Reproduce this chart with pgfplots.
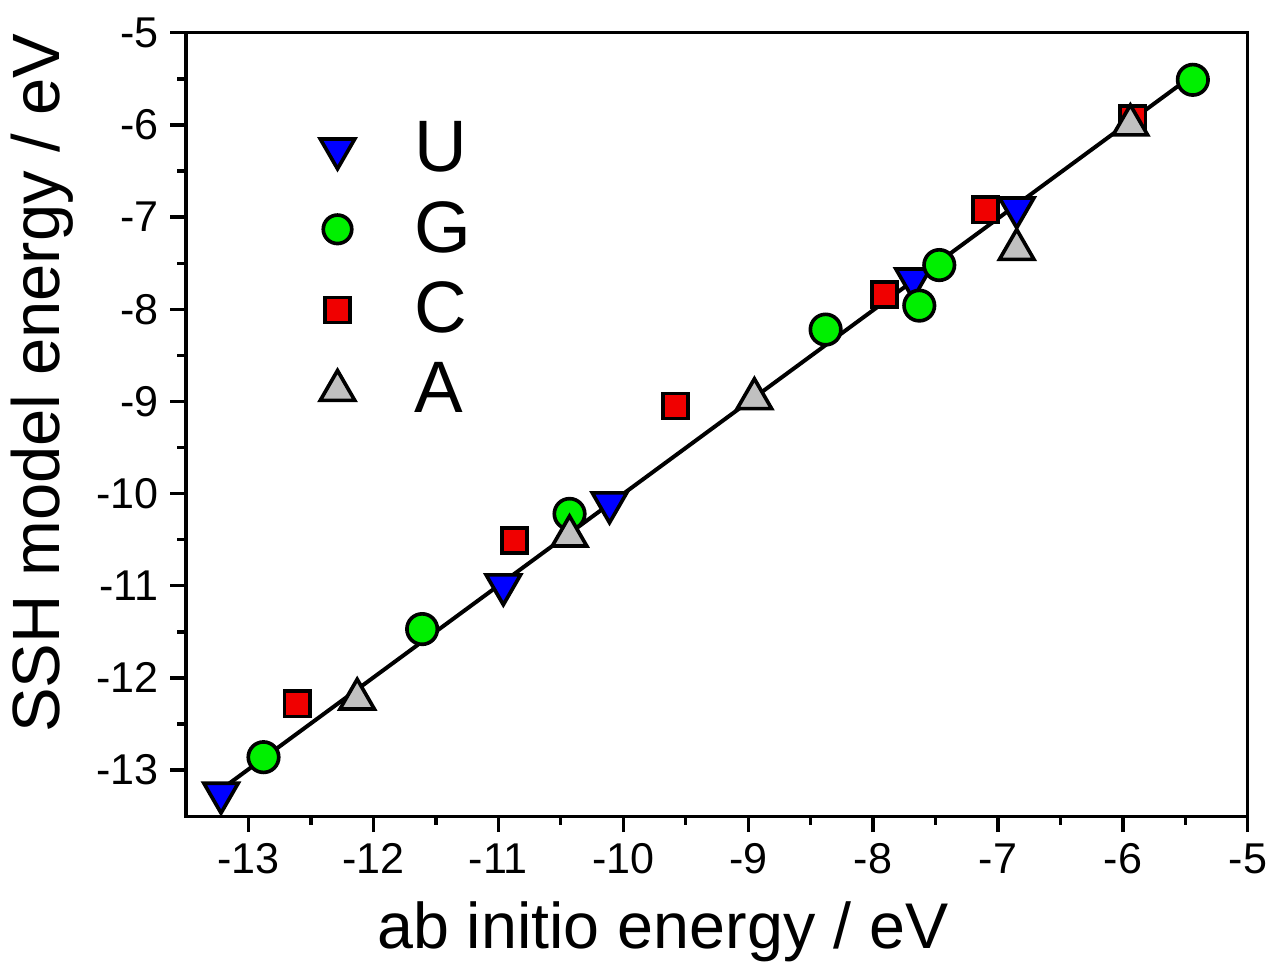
\documentclass[border=0pt]{standalone}
\usepackage{fontspec}
\setmainfont{Liberation Sans}
\usepackage{pgfplots}
\pgfplotsset{compat=1.18}
\definecolor{ublue}{RGB}{0,0,255}
\definecolor{ggreen}{RGB}{0,240,0}
\definecolor{cred}{RGB}{240,0,0}
\definecolor{agray}{RGB}{192,192,192}
\begin{document}
\begin{tikzpicture}
\begin{axis}[
  width=320.4pt, height=236.4pt, scale only axis,
  xmin=-13.5, xmax=-5, ymin=-13.5, ymax=-5,
  xtick={-13,-12,...,-5}, ytick={-13,-12,...,-5},
  minor tick num=1,
  xtick pos=left, ytick pos=left,
  tick align=outside,
  major tick length=4.8pt, minor tick length=2.6pt,
  axis line style={line width=1pt},
  every tick/.style={line width=1pt, black},
  /pgf/number format/assume math mode=true,
  tick label style={font=\fontsize{13}{15}\selectfont},
  xlabel={ab initio energy / eV},
  ylabel={SSH model energy / eV},
  xlabel style={font=\fontsize{19.5}{23}\selectfont, at={(ticklabel cs:0.449)}, anchor=near ticklabel, yshift=-1.5pt},
  ylabel style={font=\fontsize{20.2}{23}\selectfont, at={(ticklabel cs:0.553)}, anchor=near ticklabel},
  clip=false,
  legend style={draw=none, fill=none, at={(axis cs:-12.59,-5.81)}, anchor=north west,
    font=\fontsize{22}{26}\selectfont, row sep=3.5pt, cells={anchor=west}},
  legend image code/.code={\path (0pt,0pt) (29pt,0pt); \draw[#1] plot coordinates {(8pt,0pt)};},
]
\addlegendimage{only marks, mark=triangle*, mark size=6pt, mark options={rotate=180, draw=black, fill=ublue, line width=1.1pt}}
\addlegendentry{U}
\addlegendimage{only marks, mark=*, mark size=4.3pt, mark options={draw=black, fill=ggreen, line width=1.1pt}}
\addlegendentry{G}
\addlegendimage{only marks, mark=square*, mark size=3.8pt, mark options={draw=black, fill=cred, line width=1.1pt}}
\addlegendentry{C}
\addlegendimage{only marks, mark=triangle*, mark size=6pt, mark options={draw=black, fill=agray, line width=1.1pt}}
\addlegendentry{A}
% C
\addplot[forget plot, only marks, mark=square*, mark size=3.8pt, mark options={draw=black, fill=cred, line width=1.1pt}] coordinates {
(-12.61,-12.28) (-10.87,-10.51) (-9.58,-9.05) (-7.91,-7.84) (-7.10,-6.92) (-5.92,-5.93)};
% U
\addplot[forget plot, only marks, mark=triangle*, mark size=6pt, mark options={rotate=180, draw=black, fill=ublue, line width=1.1pt}] coordinates {
(-13.22,-13.25) (-10.96,-10.99) (-10.11,-10.10) (-7.68,-7.67) (-6.85,-6.90)};
% G
\addplot[forget plot, only marks, mark=*, mark size=4.6pt, mark options={draw=black, fill=ggreen, line width=1.1pt}] coordinates {
(-12.88,-12.86) (-11.61,-11.47) (-10.43,-10.22) (-8.38,-8.22) (-7.63,-7.96) (-7.47,-7.52) (-5.44,-5.51)};
% A
\addplot[forget plot, only marks, mark=triangle*, mark size=6pt, mark options={draw=black, fill=agray, line width=1.1pt}] coordinates {
(-12.13,-12.23) (-10.43,-10.46) (-8.95,-8.97) (-6.85,-7.35) (-5.94,-6.00)};
% fit line
\addplot[forget plot, black, line width=1.2pt, no marks] coordinates {(-13.25,-13.24) (-5.49,-5.51)};
\path[draw=none] (rel axis cs:-0.1732,-0.1967) rectangle (rel axis cs:1.0234,1.0419);
\end{axis}
\end{tikzpicture}
\end{document}
